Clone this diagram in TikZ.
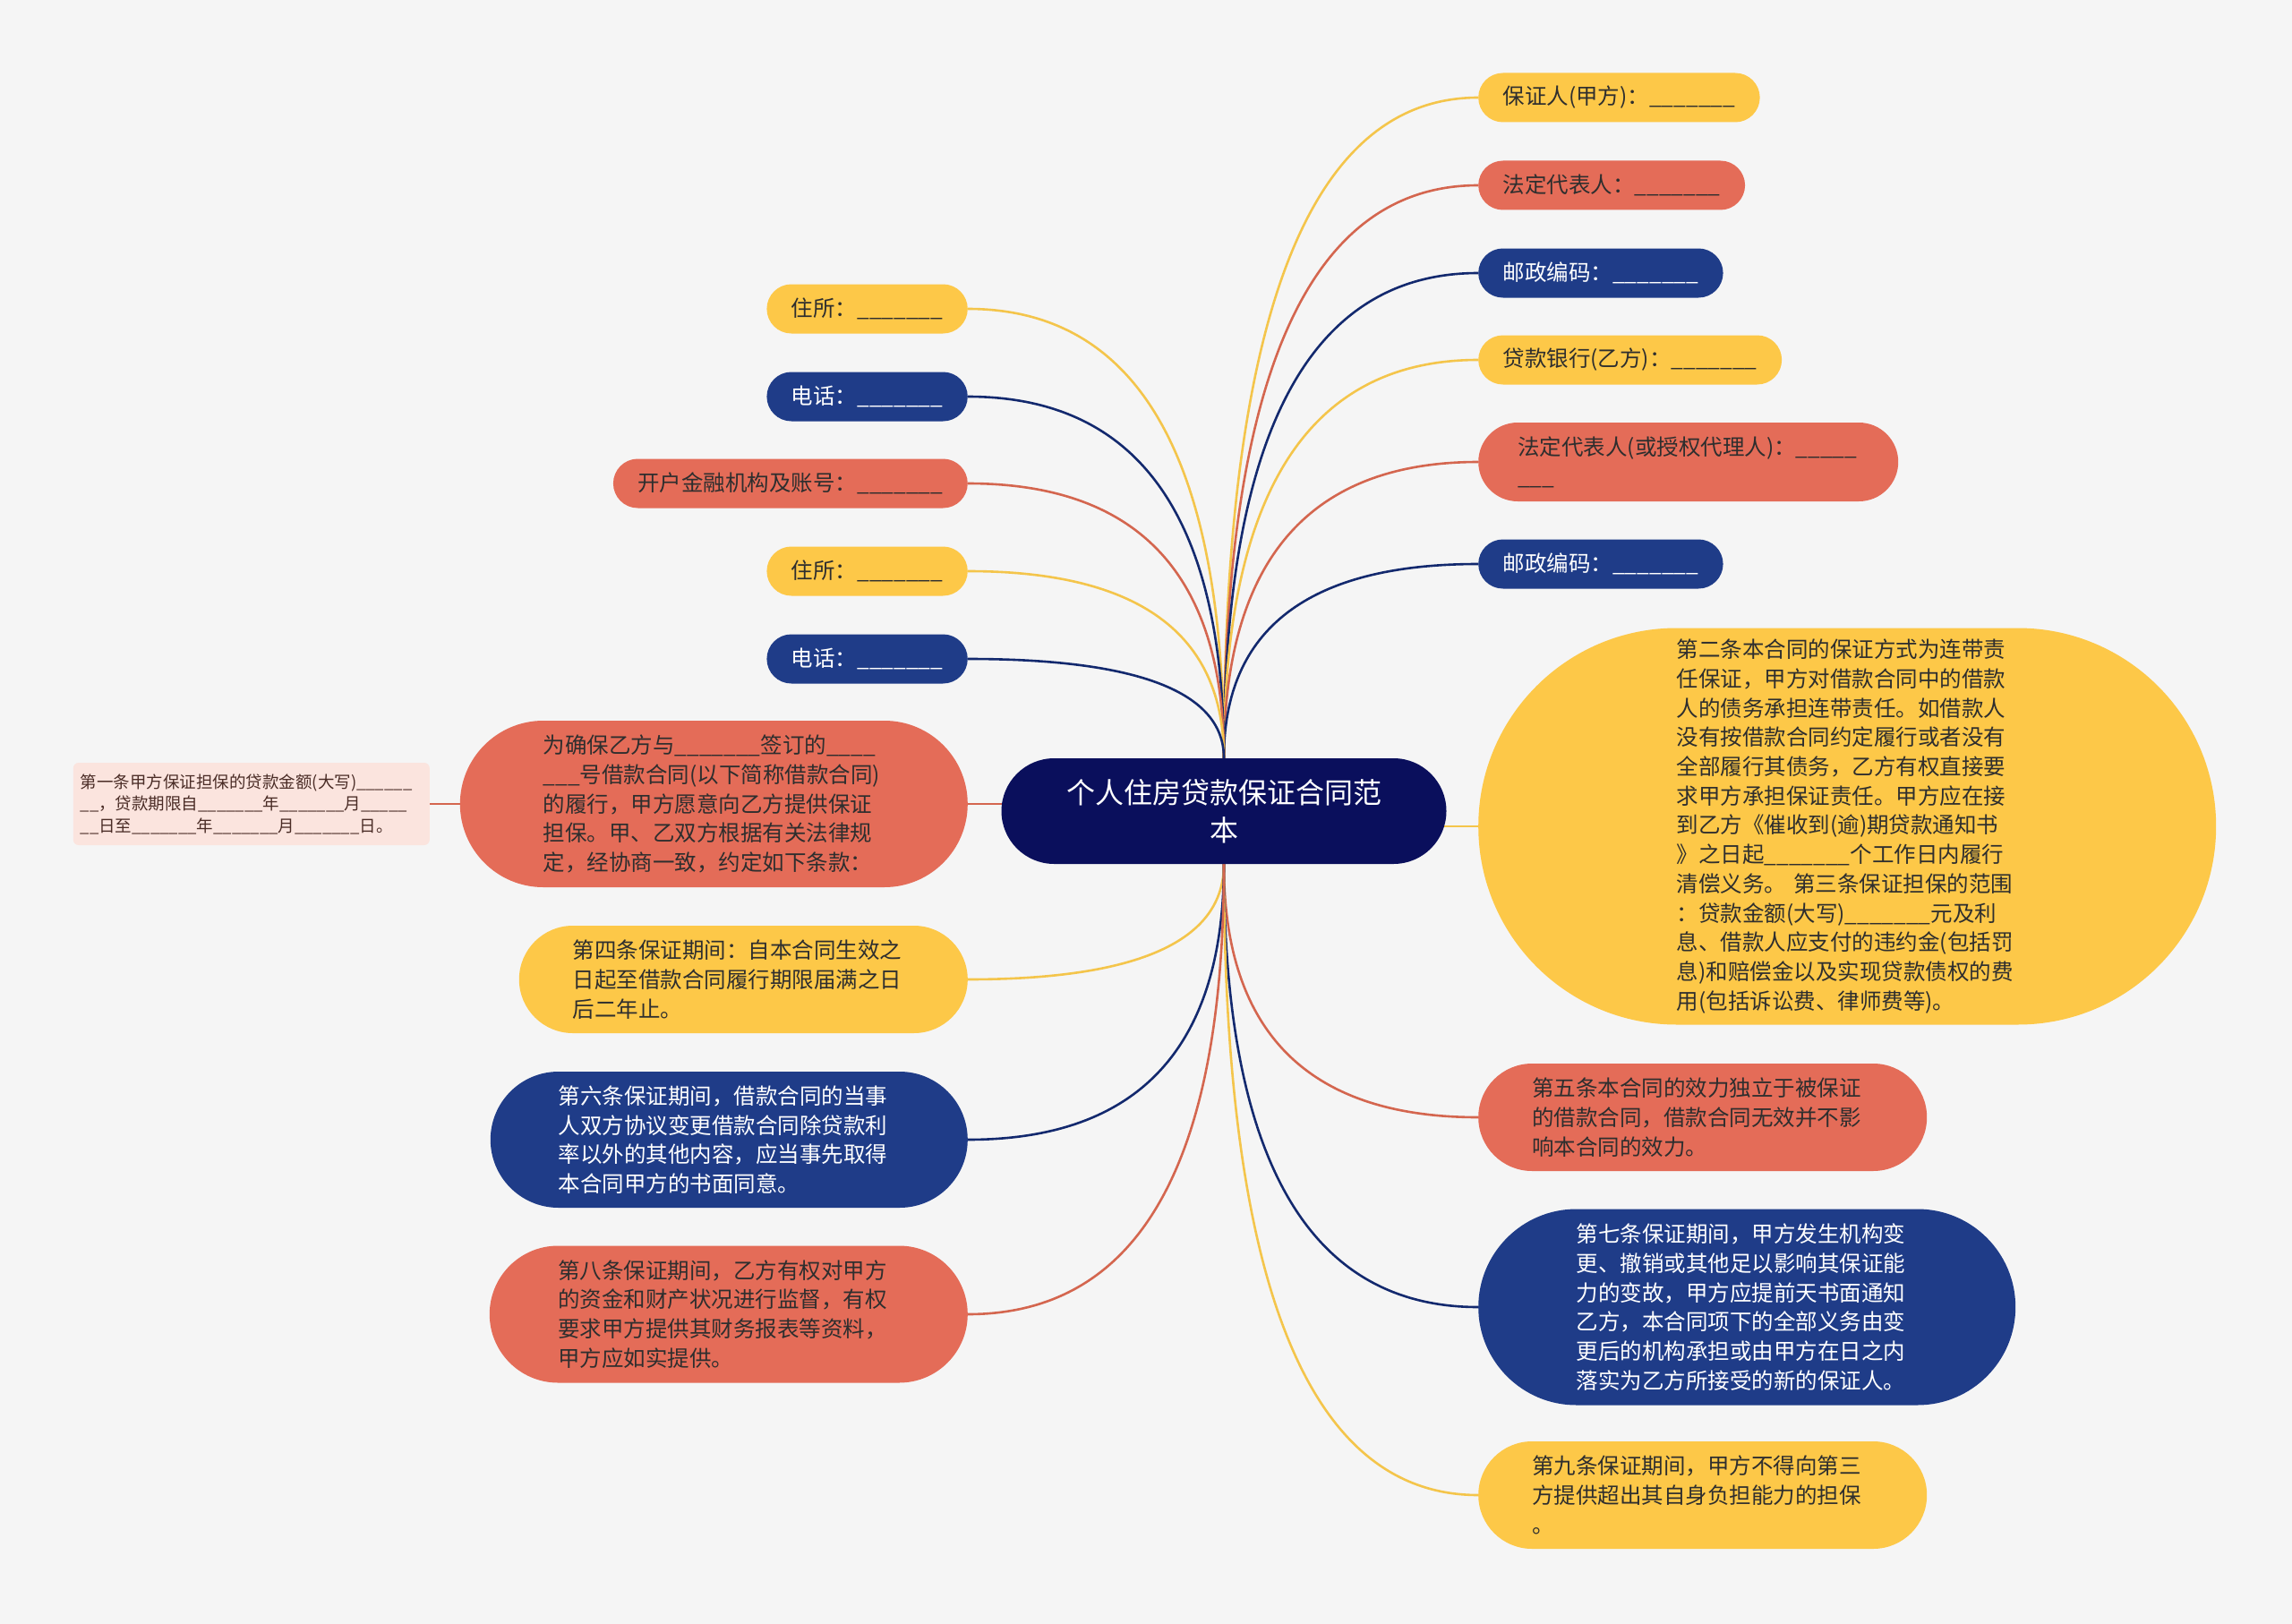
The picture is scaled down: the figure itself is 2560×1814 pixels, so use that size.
\documentclass[tikz,border=0pt]{standalone}
\usepackage{fontspec}
\setmainfont{Noto Sans CJK SC}
\usetikzlibrary{calc}

\definecolor{paper}{HTML}{F5F5F5}
\definecolor{sun}{HTML}{FDC848}
\definecolor{coral}{HTML}{E46C58}
\definecolor{ocean}{HTML}{1F3C88}
\definecolor{night}{HTML}{0A0F5C}
\definecolor{blush}{HTML}{FBE4DE}
\definecolor{sunline}{HTML}{F4C54B}
\definecolor{coralline}{HTML}{D4664F}
\definecolor{oceanline}{HTML}{13296E}
\definecolor{ink}{HTML}{2E2E2E}
\definecolor{rosewood}{HTML}{4A2C26}

\newcommand\bodyfont{\fontsize{24.5}{32.7}\selectfont}
\newcommand\blank{\_\_\_\_\_\_\_}

\pgfdeclarelayer{links}
\pgfsetlayers{links,main}

\tikzset{
  pill/.style={rectangle, rounded corners=#1, inner xsep=#1, inner ysep=0pt,
    minimum height=2*#1, font=\bodyfont, text=ink},
  pill/.default=27.5pt,
  para/.style={pill=#1, text width=381pt, align=left},
  sunbox/.style={fill=sun},
  coralbox/.style={fill=coral},
  oceanbox/.style={fill=ocean, text=white},
  wire/.style={line width=2.6pt},
  branch/.style={wire, to path={.. controls
    ($(\tikztostart)!2/3!(\tikztostart |- \tikztotarget)$) and
    ($(\tikztotarget)!2/3!(\tikztostart |- \tikztotarget)$) .. (\tikztotarget)}}
}

\begin{document}
\begin{tikzpicture}[x=1pt,y=-1pt]

\useasboundingbox (0,0) rectangle (2560,1814);

\node[pill=59pt, fill=night, text=white, text width=379pt, align=center,
  font=\fontsize{32}{42}\selectfont] (root) at (1367,906)
{个人住房贷款保证合同范\\本};

% right side
\node[pill, sunbox, anchor=west] (r1) at (1651,109) {保证人(甲方)：\blank};
\node[pill, coralbox, anchor=west] (r2) at (1651,207) {法定代表人：\blank};
\node[pill, oceanbox, anchor=west] (r3) at (1651,305) {邮政编码：\blank};
\node[pill, sunbox, anchor=west] (r4) at (1651,402) {贷款银行(乙方)：\blank};
\node[para=44pt, coralbox, anchor=west] (r5) at (1651,516)
{法定代表人(或授权代理人)：\_\_\_\_\_\\\_\_\_};
\node[pill, oceanbox, anchor=west] (r6) at (1651,630) {邮政编码：\blank};

\node[para=221.5pt, sunbox, anchor=west] (r7) at (1651,923)
{第二条本合同的保证方式为连带责\\
任保证，甲方对借款合同中的借款\\
人的债务承担连带责任。如借款人\\
没有按借款合同约定履行或者没有\\
全部履行其债务，乙方有权直接要\\
求甲方承担保证责任。甲方应在接\\
到乙方《催收到(逾)期贷款通知书\\
》之日起\blank 个工作日内履行\\
清偿义务。 第三条保证担保的范围\\
：贷款金额(大写)\blank 元及利\\
息、借款人应支付的违约金(包括罚\\
息)和赔偿金以及实现贷款债权的费\\
用(包括诉讼费、律师费等)。};

\node[para=60pt, coralbox, anchor=west] (r8) at (1651,1248)
{第五条本合同的效力独立于被保证\\
的借款合同，借款合同无效并不影\\
响本合同的效力。};

\node[para=109.5pt, oceanbox, anchor=west] (r9) at (1651,1460)
{第七条保证期间，甲方发生机构变\\
更、撤销或其他足以影响其保证能\\
力的变故，甲方应提前天书面通知\\
乙方，本合同项下的全部义务由变\\
更后的机构承担或由甲方在日之内\\
落实为乙方所接受的新的保证人。};

\node[para=60pt, sunbox, anchor=west] (r10) at (1651,1670)
{第九条保证期间，甲方不得向第三\\
方提供超出其自身负担能力的担保\\
。};

% left side
\node[pill, sunbox, anchor=east] (l1) at (1081,345) {住所：\blank};
\node[pill, oceanbox, anchor=east] (l2) at (1081,443) {电话：\blank};
\node[pill, coralbox, anchor=east] (l3) at (1081,540) {开户金融机构及账号：\blank};
\node[pill, sunbox, anchor=east] (l4) at (1081,638) {住所：\blank};
\node[pill, oceanbox, anchor=east] (l5) at (1081,736) {电话：\blank};

\node[para=93pt, coralbox, anchor=east] (l6) at (1081,898)
{为确保乙方与\blank 签订的\_\_\_\_\\
\_\_\_号借款合同(以下简称借款合同)\\
的履行，甲方愿意向乙方提供保证\\
担保。甲、乙双方根据有关法律规\\
定，经协商一致，约定如下条款：};

\node[rectangle, rounded corners=6pt, fill=blush, text=rosewood,
  text width=382pt, align=left, inner xsep=8pt, inner ysep=0pt,
  minimum height=92pt, font=\fontsize{18.5}{24.5}\selectfont,
  anchor=east] (first) at (480,898)
{第一条甲方保证担保的贷款金额(大写)\_\_\_\_\_\_\\
\_\_，贷款期限自\blank 年\blank 月\_\_\_\_\_\\
\_\_日至\blank 年\blank 月\blank 日。};

\node[para=60pt, sunbox, anchor=east] (l7) at (1081,1094)
{第四条保证期间：自本合同生效之\\
日起至借款合同履行期限届满之日\\
后二年止。};

\node[para=76pt, oceanbox, anchor=east] (l8) at (1081,1273)
{第六条保证期间，借款合同的当事\\
人双方协议变更借款合同除贷款利\\
率以外的其他内容，应当事先取得\\
本合同甲方的书面同意。};

\node[para=76.5pt, coralbox, anchor=east] (l9) at (1081,1468)
{第八条保证期间，乙方有权对甲方\\
的资金和财产状况进行监督，有权\\
要求甲方提供其财务报表等资料，\\
甲方应如实提供。};

\begin{pgfonlayer}{links}
\fill[paper] (0,0) rectangle (2560,1814);

\draw[branch, sunline] (root.north) to (r1.west);
\draw[branch, coralline] (root.north) to (r2.west);
\draw[branch, oceanline] (root.north) to (r3.west);
\draw[branch, sunline] (root.north) to (r4.west);
\draw[branch, coralline] (root.north) to (r5.west);
\draw[branch, oceanline] (root.north) to (r6.west);
\draw[wire, sunline] (r7.west -| root.center) -- (r7.west);
\draw[branch, coralline] (root.south) to (r8.west);
\draw[branch, oceanline] (root.south) to (r9.west);
\draw[branch, sunline] (root.south) to (r10.west);

\draw[branch, sunline] (root.north) to (l1.east);
\draw[branch, oceanline] (root.north) to (l2.east);
\draw[branch, coralline] (root.north) to (l3.east);
\draw[branch, sunline] (root.north) to (l4.east);
\draw[branch, oceanline] (root.north) to (l5.east);
\draw[wire, coralline] (l6.east -| root.center) -- (l6.east);
\draw[wire, coralline] (l6.west) -- (first.east);
\draw[branch, sunline] (root.south) to (l7.east);
\draw[branch, oceanline] (root.south) to (l8.east);
\draw[branch, coralline] (root.south) to (l9.east);
\end{pgfonlayer}

\end{tikzpicture}
\end{document}
